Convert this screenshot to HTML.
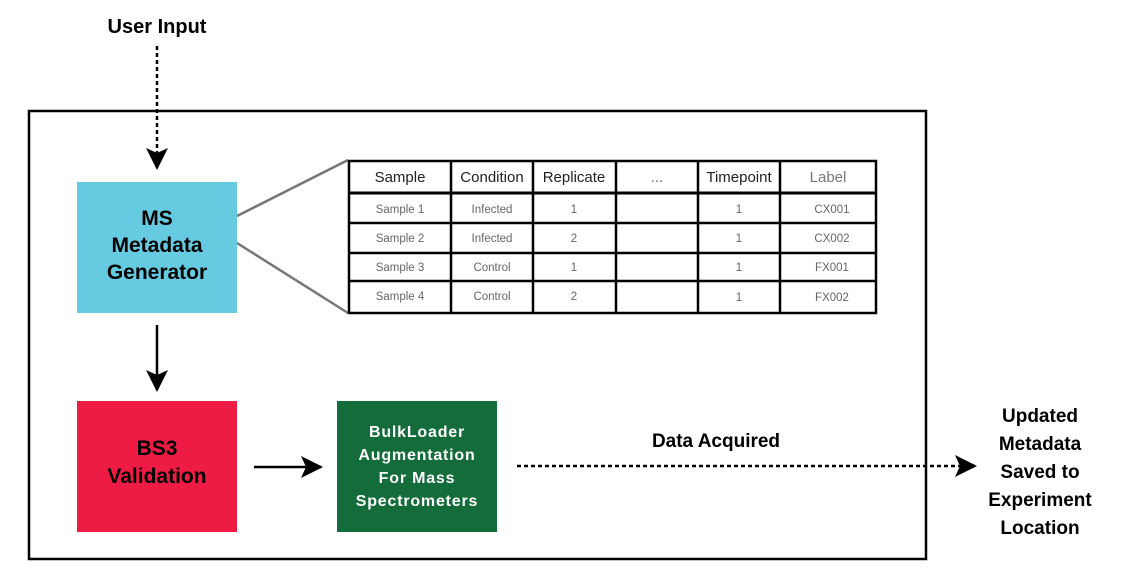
<!DOCTYPE html>
<html><head><meta charset="utf-8"><style>
html,body{margin:0;padding:0;background:#fff;}
svg{display:block;font-family:"Liberation Sans",Arial,sans-serif;}
.b{font-weight:bold;}
</style></head><body>
<svg width="1135" height="583" viewBox="0 0 1135 583" xmlns="http://www.w3.org/2000/svg">
<defs>
<marker id="ah2" markerWidth="22" markerHeight="22" refX="20" refY="11" orient="auto" markerUnits="userSpaceOnUse">
<path d="M0,0 L22,11 L0,22 L5,11 Z" fill="#000"/>
</marker>
</defs>
<rect x="29" y="111" width="897" height="448" fill="none" stroke="#000" stroke-width="2.5"/>
<text x="157" y="33" text-anchor="middle" class="b" font-size="20">User Input</text>
<line x1="157" y1="46" x2="157" y2="168" stroke="#000" stroke-width="2.5" stroke-dasharray="4,3" marker-end="url(#ah2)"/>
<rect x="77" y="182" width="160" height="131" fill="#66CBE0"/>
<text x="157" y="225" text-anchor="middle" class="b" font-size="21">MS</text>
<text x="157" y="252" text-anchor="middle" class="b" font-size="21">Metadata</text>
<text x="157" y="279" text-anchor="middle" class="b" font-size="21">Generator</text>
<rect x="77" y="401" width="160" height="131" fill="#EE1C44"/>
<text x="157" y="455" text-anchor="middle" class="b" font-size="21">BS3</text>
<text x="157" y="483" text-anchor="middle" class="b" font-size="21">Validation</text>
<rect x="337" y="401" width="160" height="131" fill="#146C3A"/>
<g fill="#fff" class="b" font-size="16" text-anchor="middle" letter-spacing="0.8">
<text x="417" y="437">BulkLoader</text>
<text x="417" y="460">Augmentation</text>
<text x="417" y="483">For Mass</text>
<text x="417" y="506">Spectrometers</text>
</g>
<line x1="157" y1="325" x2="157" y2="390" stroke="#000" stroke-width="2.5" marker-end="url(#ah2)"/>
<line x1="254" y1="467" x2="321" y2="467" stroke="#000" stroke-width="2.5" marker-end="url(#ah2)"/>
<line x1="517" y1="466" x2="975" y2="466" stroke="#000" stroke-width="2.5" stroke-dasharray="4,3" marker-end="url(#ah2)"/>
<text x="716" y="447" text-anchor="middle" class="b" font-size="19">Data Acquired</text>
<g class="b" font-size="19" text-anchor="middle">
<text x="1040" y="422">Updated</text>
<text x="1040" y="450">Metadata</text>
<text x="1040" y="478">Saved to</text>
<text x="1040" y="506">Experiment</text>
<text x="1040" y="534">Location</text>
</g>
<line x1="237" y1="216" x2="348" y2="160" stroke="#777" stroke-width="2.5"/>
<line x1="237" y1="243" x2="348" y2="313" stroke="#777" stroke-width="2.5"/>
<g stroke="#000" stroke-width="2.5" fill="none">
<rect x="349" y="161" width="527" height="152"/>
<line x1="349" y1="193" x2="876" y2="193" stroke-width="3"/>
<line x1="349" y1="223" x2="876" y2="223"/>
<line x1="349" y1="253" x2="876" y2="253"/>
<line x1="349" y1="281" x2="876" y2="281"/>
<line x1="451" y1="161" x2="451" y2="313"/>
<line x1="533" y1="161" x2="533" y2="313"/>
<line x1="616" y1="161" x2="616" y2="313"/>
<line x1="698" y1="161" x2="698" y2="313"/>
<line x1="780" y1="161" x2="780" y2="313"/>
</g>
<g font-size="15" text-anchor="middle" fill="#222">
<text x="400" y="182">Sample</text>
<text x="492" y="182">Condition</text>
<text x="574" y="182">Replicate</text>
<text x="657" y="182" fill="#666">...</text>
<text x="739" y="182">Timepoint</text>
<text x="828" y="182" fill="#777">Label</text>
</g>
<g font-size="11.5" text-anchor="middle" fill="#666">
<text x="400" y="213">Sample 1</text><text x="492" y="213">Infected</text><text x="574" y="213">1</text><text x="739" y="213">1</text><text x="832" y="213">CX001</text>
<text x="400" y="242">Sample 2</text><text x="492" y="242">Infected</text><text x="574" y="242">2</text><text x="739" y="242">1</text><text x="832" y="242">CX002</text>
<text x="400" y="271">Sample 3</text><text x="492" y="271">Control</text><text x="574" y="271">1</text><text x="739" y="271">1</text><text x="832" y="271">FX001</text>
<text x="400" y="300">Sample 4</text><text x="492" y="300">Control</text><text x="574" y="300">2</text><text x="739" y="301">1</text><text x="832" y="301">FX002</text>
</g>
</svg>
</body></html>
